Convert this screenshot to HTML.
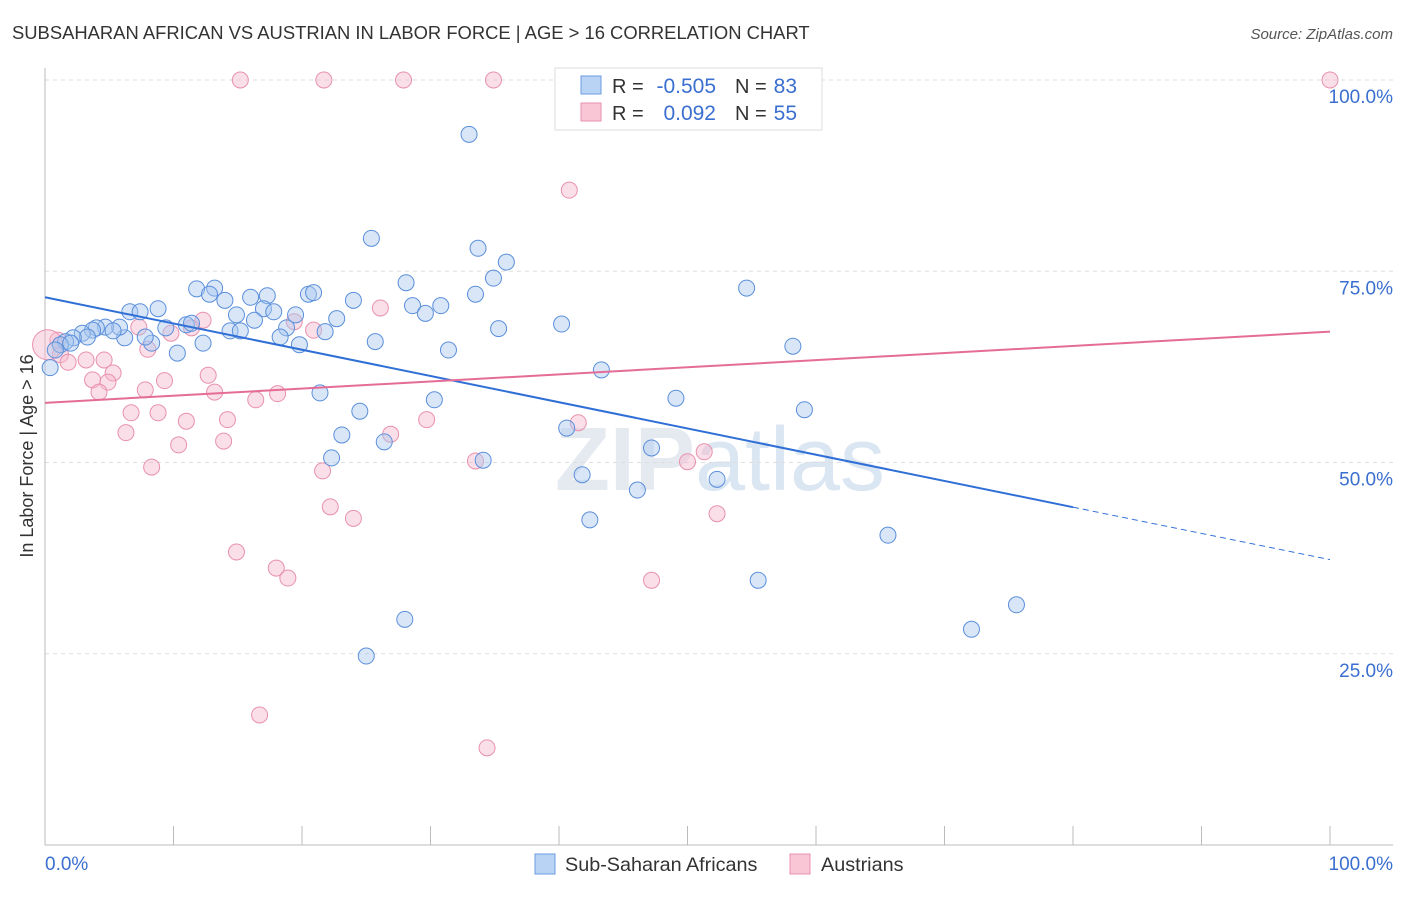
<!DOCTYPE html>
<html><head><meta charset="utf-8"><style>
body{margin:0;background:#fff;font-family:"Liberation Sans",sans-serif}
</style></head><body>
<svg id="chart" width="1406" height="892" xmlns="http://www.w3.org/2000/svg" font-family="Liberation Sans, sans-serif">
<text x="12" y="39" font-size="18.4" fill="#333">SUBSAHARAN AFRICAN VS AUSTRIAN IN LABOR FORCE | AGE &gt; 16 CORRELATION CHART</text>
<text x="1393" y="39" font-size="15" fill="#555" text-anchor="end" font-style="italic">Source: ZipAtlas.com</text>
<text x="720" y="490" font-size="90" fill="#ccd6e4" fill-opacity="0.5" text-anchor="middle" font-weight="bold">ZIP<tspan font-weight="normal" fill="#b7cde8">atlas</tspan></text>
<g id="grid"></g><g id="marks"></g>
<text transform="translate(33,456) rotate(-90)" font-size="18" fill="#333" text-anchor="middle">In Labor Force | Age &gt; 16</text>
<g>
<rect x="555" y="68" width="267" height="62" fill="#fff" stroke="#ddd"/>
<rect x="581" y="76" width="20" height="18" fill="#b9d3f5" stroke="#6a9be0"/>
<rect x="581" y="103" width="20" height="18" fill="#f9c6d6" stroke="#e891ad"/>
<text x="612" y="93" font-size="20" fill="#333">R =</text>
<text x="716" y="93" font-size="21" fill="#3a6fd0" text-anchor="end">-0.505</text>
<text x="735" y="93" font-size="20" fill="#333">N =</text>
<text x="797" y="93" font-size="21" fill="#3a6fd0" text-anchor="end">83</text>
<text x="612" y="120" font-size="20" fill="#333">R =</text>
<text x="716" y="120" font-size="21" fill="#3a6fd0" text-anchor="end">0.092</text>
<text x="735" y="120" font-size="20" fill="#333">N =</text>
<text x="797" y="120" font-size="21" fill="#3a6fd0" text-anchor="end">55</text>
</g>
<g>
<rect x="535" y="854" width="20" height="20" fill="#b9d3f5" stroke="#6a9be0"/>
<text x="565" y="871" font-size="19.8" fill="#333">Sub-Saharan Africans</text>
<rect x="790" y="854" width="20" height="20" fill="#f9c6d6" stroke="#e891ad"/>
<text x="821" y="871" font-size="19.8" fill="#333">Austrians</text>
</g>
</svg>
<script>
const yTicks=[25,50,75,100];
const yTickLabels=["25.0%","50.0%","75.0%","100.0%"];
const blueX=[33.0,25.4,33.7,35.9,34.9,28.1,54.6,11.8,13.2,12.8,14.0,16.0,17.3,20.5,20.9,24.0,33.5,28.6,30.8,29.6,17.0,17.8,14.9,8.8,6.6,7.4,19.5,22.7,16.3,40.2,35.3,9.4,11.0,11.4,14.4,15.2,18.8,21.8,18.3,25.7,19.8,12.3,58.2,31.4,10.3,8.3,7.8,6.2,5.8,4.7,5.3,4.0,3.7,2.9,3.3,2.2,1.6,1.2,0.8,0.4,43.3,21.4,30.3,49.1,59.1,24.5,40.6,23.1,47.2,26.4,22.3,34.1,41.8,52.3,46.1,42.4,65.6,55.5,75.6,28.0,72.1,25.0,2.0];
const blueY=[92.9,79.3,78.0,76.2,74.1,73.5,72.8,72.7,72.8,72.0,71.2,71.6,71.8,72.0,72.2,71.2,72.0,70.5,70.5,69.5,70.1,69.7,69.3,70.1,69.7,69.7,69.3,68.8,68.6,68.1,67.5,67.6,68.0,68.2,67.2,67.2,67.6,67.1,66.4,65.8,65.4,65.6,65.2,64.7,64.3,65.6,66.4,66.3,67.7,67.7,67.2,67.6,67.3,66.9,66.4,66.3,65.8,65.4,64.7,62.4,62.1,59.1,58.2,58.4,56.9,56.7,54.5,53.6,51.9,52.7,50.6,50.3,48.4,47.8,46.4,42.5,40.5,34.6,31.4,29.5,28.2,24.7,65.6];
const pinkX=[15.2,21.7,27.9,34.9,100,40.8,12.3,26.1,7.3,9.8,11.4,20.9,19.4,1.0,8.0,1.2,1.8,3.2,4.6,5.3,3.7,4.9,9.3,12.7,4.2,7.8,13.2,18.1,16.4,6.7,8.8,11.0,14.2,29.7,41.5,6.3,26.9,13.9,10.4,51.3,33.5,50.0,8.3,21.6,22.2,24.0,52.3,14.9,18.0,18.9,47.2,16.7,34.4,0.2];
const pinkY=[100,100,100,100,100,85.6,68.6,70.2,67.7,66.9,67.6,67.3,68.4,66.0,64.8,64.1,63.1,63.4,63.4,61.7,60.8,60.5,60.7,61.4,59.2,59.5,59.2,59.0,58.2,56.5,56.5,55.4,55.6,55.6,55.2,53.9,53.7,52.8,52.3,51.4,50.2,50.1,49.4,48.9,44.2,42.7,43.3,38.3,36.2,34.9,34.6,17.0,12.7,65.4];
const blueTrend=[71.6,37.3];
const pinkTrend=[57.8,67.1];
const NS="http://www.w3.org/2000/svg";
const sx=v=>45+v*12.85, sy=v=>845-v*7.65;
function mk(t,a,p){const e=document.createElementNS(NS,t);for(const k in a)e.setAttribute(k,a[k]);p.appendChild(e);return e;}
const g=document.getElementById('grid'),m=document.getElementById('marks');
yTicks.forEach((t,i)=>{
 const l=mk('line',{x1:45,x2:1393,y1:sy(t),y2:sy(t),stroke:'#ddd','stroke-dasharray':'4,4'},g);
 
 
 const tx=mk('text',{x:1393,y:sy(t)+23,'font-size':19,fill:'#3a6fd0','text-anchor':'end'},g);
 tx.textContent=yTickLabels[i];
 
 
});
let ax=mk('line',{x1:45,x2:45,y1:68,y2:845,stroke:'#bbb'},g);


ax=mk('line',{x1:45,x2:1393,y1:845,y2:845,stroke:'#bbb'},g);


for(let i=1;i<=10;i++){const t=mk('line',{x1:sx(i*10),x2:sx(i*10),y1:826,y2:845,stroke:'#bbb'},g);
 
 }
[[0,"0.0%",'start',45],[100,"100.0%",'end',1393]].forEach(d=>{const t=mk('text',{x:d[3],y:870,'font-size':19,fill:'#3a6fd0','text-anchor':d[2]},g);t.textContent=d[1];
 
 });
function pts(X,Y,fill,stroke,name){X.forEach((x,i)=>{const r=(name==='pink-point'&&i===X.length-1)?15:8;
 const c=mk('circle',{cx:sx(x),cy:sy(Y[i]),r:r,fill:fill,'fill-opacity':0.45,stroke:stroke,'stroke-width':1},m);
 
 });}
pts(pinkX,pinkY,'#f7b9cc','#e891ad','pink-point');
pts(blueX,blueY,'#a9c8f0','#5b8fdb','blue-point');
const bx=80,by=blueTrend[0]+(blueTrend[1]-blueTrend[0])*bx/100;
let ln=mk('line',{x1:sx(0),y1:sy(blueTrend[0]),x2:sx(bx),y2:sy(by),stroke:'#2f6fd6','stroke-width':2},m);


ln=mk('line',{x1:sx(bx),y1:sy(by),x2:sx(100),y2:sy(blueTrend[1]),stroke:'#2f6fd6','stroke-width':1,'stroke-dasharray':'6,4'},m);


ln=mk('line',{x1:sx(0),y1:sy(pinkTrend[0]),x2:sx(100),y2:sy(pinkTrend[1]),stroke:'#e46c96','stroke-width':2},m);


</script>
</body></html>
